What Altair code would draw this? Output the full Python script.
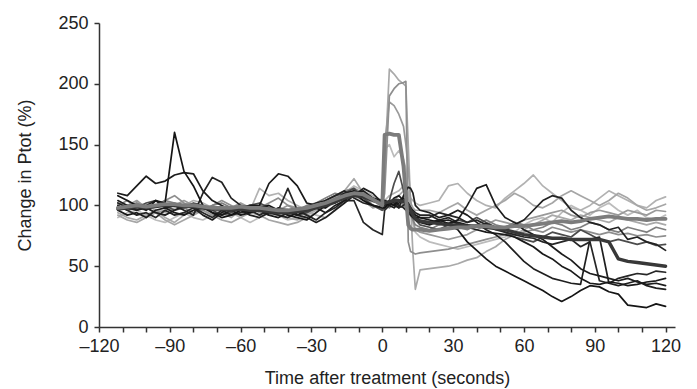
import altair as alt
import pandas as pd

# time points (seconds after treatment)
T = [-112, -108, -104, -100, -96, -92, -88, -84, -80, -76, -72, -68, -64, -60,
     -56, -52, -48, -44, -40, -36, -32, -28, -24, -20, -16, -12, -8, -4, 0,
     1, 3, 5, 7, 9, 10, 11, 12, 13, 14, 16,
     20, 24, 28, 32, 36, 40, 44, 48, 52, 56, 60, 64, 68, 72, 76, 80, 84, 88,
     92, 96, 100, 104, 108, 112, 116, 120]

X_TICKS = list(range(-120, 121, 10))
Y_TICKS = [0, 50, 100, 150, 200, 250]

# individual recordings (change in Ptot, %)
A = [108, 104, 100, 96, 104, 102, 160, 128, 116, 100, 94, 90, 92, 96, 94, 98, 100, 96, 92, 90, 88, 94, 100, 102, 106, 110, 104, 100, 98,
     98, 102, 100, 104, 106, 104, 102, 98, 94, 92, 90,
     88, 86, 84, 80, 70, 63, 56, 50, 46, 42, 38, 34, 30, 25, 21, 25, 30, 34, 33, 29, 27, 18, 17, 16, 19, 17]
B = [110, 108, 116, 124, 118, 120, 125, 127, 126, 112, 104, 100, 96, 92, 94, 96, 92, 90, 94, 92, 96, 98, 94, 100, 104, 110, 112, 106, 104,
     104, 102, 106, 108, 104, 102, 100, 96, 92, 90, 88,
     86, 88, 85, 88, 100, 114, 117, 100, 90, 86, 80, 76, 72, 66, 60, 55, 48, 44, 42, 40, 38, 40, 37, 35, 36, 34]
C = [102, 98, 96, 100, 104, 98, 100, 96, 92, 110, 123, 119, 106, 100, 98, 96, 94, 92, 90, 94, 98, 102, 104, 108, 112, 106, 102, 100, 98,
     100, 104, 102, 98, 100, 102, 100, 98, 96, 94, 92,
     92, 88, 90, 86, 84, 82, 85, 82, 80, 84, 88, 96, 104, 108, 106, 96, 90, 86, 84, 80, 82, 72, 74, 70, 68, 63]
D = [96, 92, 94, 90, 96, 98, 94, 92, 96, 98, 94, 92, 96, 98, 100, 100, 118, 126, 124, 116, 102, 100, 98, 104, 110, 112, 108, 104, 102,
     102, 100, 98, 102, 104, 100, 96, 92, 90, 88, 86,
     84, 87, 88, 85, 82, 80, 78, 77, 76, 74, 70, 66, 60, 56, 50, 46, 40, 36, 35, 37, 36, 34, 35, 37, 38, 40]
E = [100, 96, 92, 94, 90, 96, 92, 94, 98, 94, 90, 96, 92, 94, 96, 92, 96, 96, 114, 96, 92, 88, 94, 98, 104, 104, 86, 80, 76,
     96, 100, 104, 100, 98, 96, 94, 92, 92, 90, 90,
     90, 94, 92, 90, 86, 88, 84, 80, 78, 76, 74, 73, 70, 68, 70, 72, 66, 70, 38, 36, 40, 42, 44, 43, 46, 45]
N = [104, 100, 96, 98, 94, 92, 96, 100, 98, 92, 88, 94, 98, 96, 92, 90, 94, 98, 96, 92, 90, 86, 90, 96, 102, 108, 114, 110, 102,
     104, 102, 100, 98, 108, 112, 115, 114, 110, 100, 96,
     94, 90, 92, 96, 92, 86, 80, 76, 70, 62, 54, 48, 44, 40, 38, 36, 35, 72, 74, 36, 34, 36, 38, 34, 32, 31]
M = [100, 96, 98, 102, 104, 100, 96, 98, 102, 100, 96, 92, 94, 98, 100, 102, 98, 96, 94, 92, 94, 98, 104, 108, 110, 114, 106, 100, 96,
     98, 104, 118, 128, 112, 106, 100, 96, 92, 88, 84,
     82, 80, 84, 88, 86, 90, 86, 82, 78, 74, 72, 70, 74, 78, 76, 74, 80, 76, 72, 70, 72, 70, 68, 70, 67, 68]
H = [94, 90, 88, 92, 96, 90, 86, 92, 96, 100, 98, 94, 90, 96, 100, 96, 94, 92, 90, 88, 92, 96, 98, 102, 108, 112, 106, 100, 98,
     130, 212, 208, 203, 200, 198, 150, 100, 60, 31, 47,
     48, 49, 50, 52, 55, 57, 62, 66, 72, 76, 80, 84, 88, 92, 90, 88, 92, 90, 88, 86, 90, 88, 86, 84, 86, 84]
I = [100, 104, 98, 96, 100, 104, 108, 102, 98, 96, 100, 104, 100, 96, 94, 98, 102, 106, 100, 96, 94, 98, 104, 108, 112, 114, 110, 104, 100,
     110, 190, 196, 200, 201, 202, 70, 62, 61, 60, 61,
     62, 63, 64, 66, 68, 70, 72, 74, 76, 75, 78, 80, 78, 82, 80, 78, 80, 78, 76, 78, 76, 77, 75, 76, 74, 75]
J = [96, 98, 102, 100, 96, 94, 98, 100, 104, 102, 98, 96, 94, 92, 96, 114, 108, 110, 104, 100, 96, 92, 90, 96, 104, 110, 112, 108, 104,
     104, 108, 110, 112, 116, 114, 110, 106, 104, 102, 100,
     102, 104, 116, 118, 110, 104, 100, 98, 106, 112, 118, 125, 116, 110, 104, 98, 96, 100, 106, 112, 108, 104, 100, 98, 104, 107]
K = [92, 88, 86, 90, 94, 88, 84, 88, 92, 96, 92, 88, 86, 90, 94, 92, 88, 86, 84, 86, 90, 94, 100, 106, 112, 122, 110, 100, 96,
     96, 100, 104, 108, 112, 110, 106, 102, 98, 96, 96,
     96, 94, 98, 102, 96, 92, 96, 100, 104, 110, 106, 100, 98, 102, 108, 112, 108, 104, 100, 104, 110, 106, 100, 96, 98, 101]
L = [102, 100, 104, 98, 94, 96, 100, 104, 100, 96, 92, 94, 98, 102, 98, 94, 92, 96, 100, 98, 96, 100, 102, 106, 104, 108, 104, 98, 100,
     150, 185, 182, 175, 165, 150, 130, 105, 88, 80, 78,
     76, 74, 72, 74, 76, 80, 84, 88, 86, 84, 88, 90, 92, 94, 96, 92, 90, 94, 96, 94, 92, 96, 94, 92, 96, 95]
O = [96, 100, 102, 98, 100, 104, 102, 98, 94, 96, 100, 102, 98, 94, 96, 100, 98, 94, 92, 96, 100, 102, 106, 110, 108, 112, 110, 106, 100,
     100, 98, 102, 104, 100, 98, 96, 92, 88, 84, 82,
     80, 84, 86, 82, 80, 84, 88, 84, 82, 86, 84, 80, 82, 86, 84, 80, 82, 86, 84, 80, 78, 82, 80, 78, 82, 80]
P = [90, 94, 96, 92, 88, 86, 90, 94, 90, 88, 92, 96, 94, 90, 86, 90, 94, 92, 88, 90, 94, 96, 100, 104, 110, 116, 112, 106, 100,
     146, 150, 140, 145, 138, 130, 110, 95, 85, 78, 74,
     70, 68, 66, 64, 66, 68, 70, 72, 74, 78, 84, 88, 90, 86, 94, 100, 96, 92, 98, 102, 96, 92, 96, 90, 88, 92]
# group means (thick traces)
F = [97, 98, 99, 98, 99, 100, 100, 99, 99, 98, 97, 97, 96, 97, 96, 96, 95, 94, 94, 95, 96, 98, 100, 103, 106, 108, 107, 104, 102,
     102, 103, 104, 104, 103, 102, 100, 96, 92, 89, 87,
     86, 85, 84, 84, 83, 83, 82, 81, 80, 78, 76, 75, 74, 73, 73, 72, 72, 72, 72, 70, 56, 54, 53, 52, 51, 50]
G = [98, 99, 100, 99, 100, 101, 101, 100, 100, 99, 98, 98, 98, 99, 98, 98, 97, 96, 96, 97, 98, 100, 102, 105, 108, 110, 109, 105, 100,
     158, 159, 158, 158, 132, 108, 84, 81, 80, 80, 80,
     79, 80, 81, 82, 82, 83, 83, 82, 82, 83, 83, 84, 85, 86, 87, 86, 87, 89, 90, 91, 90, 89, 89, 88, 89, 89]

SERIES = [
    (P, "#bcbcbc", 1.7), (J, "#b2b2b2", 1.7), (K, "#a6a6a6", 1.7), (H, "#a9a9a9", 1.7),
    (L, "#9a9a9a", 1.7), (I, "#8e8e8e", 1.7), (O, "#808080", 1.7),
    (M, "#4c4c4c", 1.7), (E, "#262626", 1.7), (N, "#1f1f1f", 1.7), (D, "#1a1a1a", 1.7),
    (C, "#222222", 1.7), (B, "#1c1c1c", 1.7), (A, "#151515", 1.7),
    (F, "#383838", 3.4), (G, "#7c7c7c", 3.8),
]

xscale = alt.Scale(domain=[-120, 124], nice=False, zero=False)
yscale = alt.Scale(domain=[0, 250], nice=False)

label_expr = ("datum.value % 30 == 0 ? (datum.value < 0 ? '\u2013' + toString(-datum.value) "
              ": toString(datum.value)) : ''")

xaxis = alt.Axis(values=X_TICKS, labelExpr=label_expr, title="Time after treatment (seconds)",
                 grid=False, tickSize=5, labelOverlap=False, labelFlush=False, labelPadding=5,
                 titleX=288, titleY=51, titleBaseline="middle", titleAlign="center")
yaxis = alt.Axis(values=Y_TICKS, title="Change in Ptot (%)", grid=False, tickSize=5,
                 labelPadding=6, titleX=-74, titleY=152, titleAngle=270,
                 titleBaseline="middle", titleAlign="center")

layers = []
for vals, col, w in SERIES:
    df = pd.DataFrame({"t": T, "v": vals})
    layers.append(
        alt.Chart(df).mark_line(color=col, strokeWidth=w, strokeJoin="round", strokeCap="round")
        .encode(x=alt.X("t:Q", scale=xscale, axis=xaxis),
                y=alt.Y("v:Q", scale=yscale, axis=yaxis))
    )

chart = (
    alt.layer(*layers)
    .properties(width=576, height=304, autosize="none",
                padding={"left": 99, "top": 23, "right": 22, "bottom": 62},
                background="white")
    .configure_view(stroke=None)
    .configure_axis(domainColor="#333333", tickColor="#333333", domainWidth=1.5, tickWidth=1.5,
                    labelFont="Liberation Sans", titleFont="Liberation Sans",
                    labelFontSize=18, titleFontSize=18, labelColor="#222222",
                    titleColor="#222222", titleFontWeight="normal")
)

chart.save("out.html", embed_options={"renderer": "svg", "actions": False})
